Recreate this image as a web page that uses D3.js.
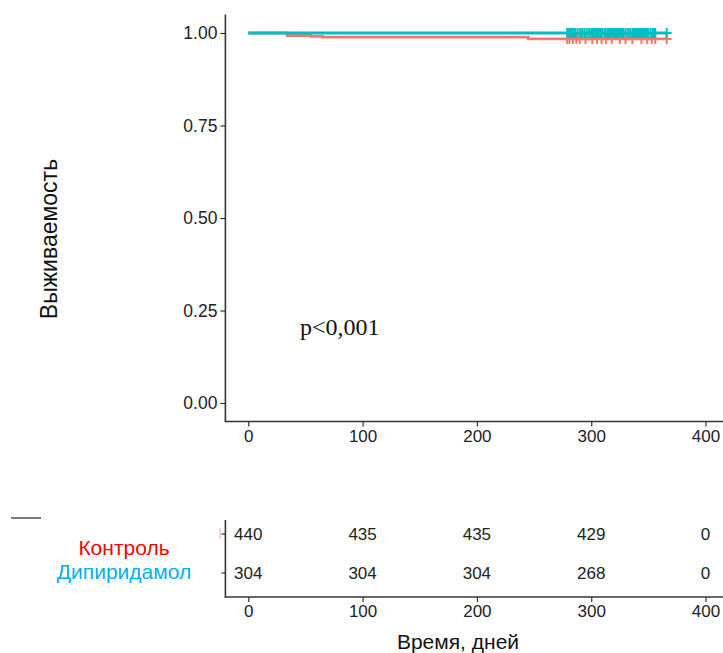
<!DOCTYPE html>
<html>
<head>
<meta charset="utf-8">
<script src="https://cdn.jsdelivr.net/npm/d3@7"></script>
<style>
  html, body { margin: 0; padding: 0; background: #fff; }
  svg { display: block; font-family: Arial, "Liberation Sans", sans-serif; }
</style>
</head>
<body>
<script>
// Kaplan–Meier survival, two groups
const groups = ["Контроль", "Дипиридамол"];
const curveColors = ["#F8766D", "#00BFC4"];
const labelColors = ["#FF0000", "#00B0F0"];

// Step curve: times where survival changes, and the survival after each step
const controlTimes = [0, 34, 55, 65, 245, 366];
const controlSurv  = [1, 0.9932, 0.9909, 0.9886, 0.9841, 0.9841];
const dipTimes = [0, 366];
const dipSurv  = [1, 1];

// Censoring times (days)
const controlCensor = [279, 281, 284, 287, 290, 295, 301, 305, 309, 313, 318, 325, 330,
                       336, 344, 349, 353, 356, 366];
const dipCensor = [279, 280, 281, 282, 283, 284, 285, 286, 288, 290, 292, 294, 296, 298,
                   300, 301, 302, 303, 304, 305, 306, 307, 308, 309, 310, 312, 314, 315,
                   316, 317, 318, 319, 320, 321, 322, 323, 324, 325, 326, 327, 328, 330,
                   332, 334, 336, 337, 338, 339, 340, 341, 342, 343, 344, 345, 346, 347,
                   348, 349, 350, 352, 354, 355, 356, 366];

// Number at risk
const riskTimes = [0, 100, 200, 300, 400];
const controlRisk = [440, 435, 435, 429, 0];
const dipRisk = [304, 304, 304, 268, 0];

const xTicks = [0, 100, 200, 300, 400];
const yTicks = [0, 0.25, 0.5, 0.75, 1];
const pText = "p<0,001";

const W = 723, H = 653;
const svg = d3.select("body").append("svg").attr("width", W).attr("height", H);

const x = d3.scaleLinear().domain([-20, 420]).range([225.4, 728.4]);
const y = d3.scaleLinear().domain([-0.05, 1.05]).range([421.5, 14.5]);

const axisColor = "#333";
const textColor = "#222";
const SANS = "Arial, 'Liberation Sans', sans-serif";

function styleAxis(g, size) {
  g.select(".domain").remove();
  g.selectAll(".tick line").attr("stroke", axisColor).attr("stroke-width", 1.2);
  g.selectAll("text").style("font-size", size + "px").style("font-family", SANS).attr("fill", textColor);
}

// ---- Survival panel ----
const main = svg.append("g");

const yAxis = main.append("g").attr("transform", `translate(${x(-20)},0)`)
  .call(d3.axisLeft(y).tickValues(yTicks).tickFormat(d3.format(".2f")).tickSize(5).tickPadding(3));
styleAxis(yAxis, 17.5);

const xAxis = main.append("g").attr("transform", `translate(0,${y(-0.05)})`)
  .call(d3.axisBottom(x).tickValues(xTicks).tickSize(5).tickPadding(3));
styleAxis(xAxis, 17);

main.append("line").attr("x1", x(-20)).attr("x2", x(-20)).attr("y1", y(1.05)).attr("y2", y(-0.05) + 0.6)
  .attr("stroke", axisColor).attr("stroke-width", 1.6);
main.append("line").attr("x1", x(-20) - 0.6).attr("x2", W).attr("y1", y(-0.05)).attr("y2", y(-0.05))
  .attr("stroke", axisColor).attr("stroke-width", 1.6);

// x title of the survival panel, mostly hidden under the risk table
svg.append("clipPath").attr("id", "xtclip").append("rect")
  .attr("x", 0).attr("y", 448).attr("width", W).attr("height", 3);
svg.append("text").attr("clip-path", "url(#xtclip)")
  .attr("x", 472).attr("y", 463).attr("text-anchor", "middle")
  .style("font-size", "17px").attr("fill", textColor).text("Time");

// y title
svg.append("text")
  .attr("transform", `translate(57,${239}) rotate(-90)`)
  .attr("text-anchor", "middle").style("font-size", "23px").attr("fill", "#111")
  .text("Выживаемость");

// curves
const stepLine = d3.line().x(d => x(d[0])).y(d => y(d[1])).curve(d3.curveStepAfter);
const curves = [
  { times: controlTimes, surv: controlSurv, censor: controlCensor, color: curveColors[0], w: 2.8 },
  { times: dipTimes, surv: dipSurv, censor: dipCensor, color: curveColors[1], w: 3 }
];

curves.forEach(c => {
  const pts = c.times.map((t, i) => [t, c.surv[i]]);
  main.append("path").datum(pts).attr("d", stepLine)
    .attr("fill", "none").attr("stroke", c.color).attr("stroke-width", c.w);
  const survAt = t => {
    let s = c.surv[0];
    c.times.forEach((tt, i) => { if (tt <= t) s = c.surv[i]; });
    return s;
  };
  const g = main.append("g");
  c.censor.forEach(t => {
    const cx = x(t), cy = y(survAt(t));
    g.append("path").attr("d", `M${cx - 5},${cy}H${cx + 5}M${cx},${cy - 5}V${cy + 5}`)
      .attr("stroke", c.color).attr("stroke-width", 2).attr("fill", "none");
  });
});

// p-value
svg.append("text").attr("x", 300).attr("y", 335)
  .style("font-family", "'Liberation Serif', 'Times New Roman', serif")
  .style("font-size", "24px").attr("fill", "#111").text(pText);

// ---- Risk table ----
const ry = d3.scalePoint().domain(groups).range([534, 573]);
const rTop = 520, rBottom = 597;
const risk = svg.append("g");

risk.append("line").attr("x1", x(-20)).attr("x2", x(-20)).attr("y1", rTop).attr("y2", rBottom + 0.6)
  .attr("stroke", axisColor).attr("stroke-width", 1.6);
risk.append("line").attr("x1", x(-20) - 0.6).attr("x2", W).attr("y1", rBottom).attr("y2", rBottom)
  .attr("stroke", axisColor).attr("stroke-width", 1.6);

groups.forEach(gname => {
  risk.append("line").attr("x1", x(-20) - 4).attr("x2", x(-20)).attr("y1", ry(gname)).attr("y2", ry(gname))
    .attr("stroke", axisColor).attr("stroke-width", 1.2);
});

const rxAxis = risk.append("g").attr("transform", `translate(0,${rBottom})`)
  .call(d3.axisBottom(x).tickValues(xTicks).tickSize(5).tickPadding(3));
styleAxis(rxAxis, 17);

[controlRisk, dipRisk].forEach((vals, gi) => {
  risk.selectAll(null).data(vals).enter().append("text")
    .attr("x", (d, i) => x(riskTimes[i]))
    .attr("y", ry(groups[gi]) + 6)
    .attr("text-anchor", "middle").style("font-size", "17px").attr("fill", textColor)
    .text(d => d);
});

// faint legend key fragment beside the first row
risk.append("line").attr("x1", 220).attr("x2", 220).attr("y1", 528).attr("y2", 539)
  .attr("stroke", "#F8C6D2").attr("stroke-width", 1.5);

// group labels
const labelY = [555, 579];
groups.forEach((gname, i) => {
  svg.append("text").attr("x", 124).attr("y", labelY[i])
    .attr("text-anchor", "middle").style("font-size", "21px").attr("fill", labelColors[i])
    .text(gname);
});

// short rule at the left
svg.append("line").attr("x1", 11).attr("x2", 41).attr("y1", 518).attr("y2", 518)
  .attr("stroke", "#222").attr("stroke-width", 1.2);

// x title
svg.append("text").attr("x", 458).attr("y", 649).attr("text-anchor", "middle")
  .style("font-size", "21px").attr("fill", "#111").text("Время, дней");
</script>
</body>
</html>
